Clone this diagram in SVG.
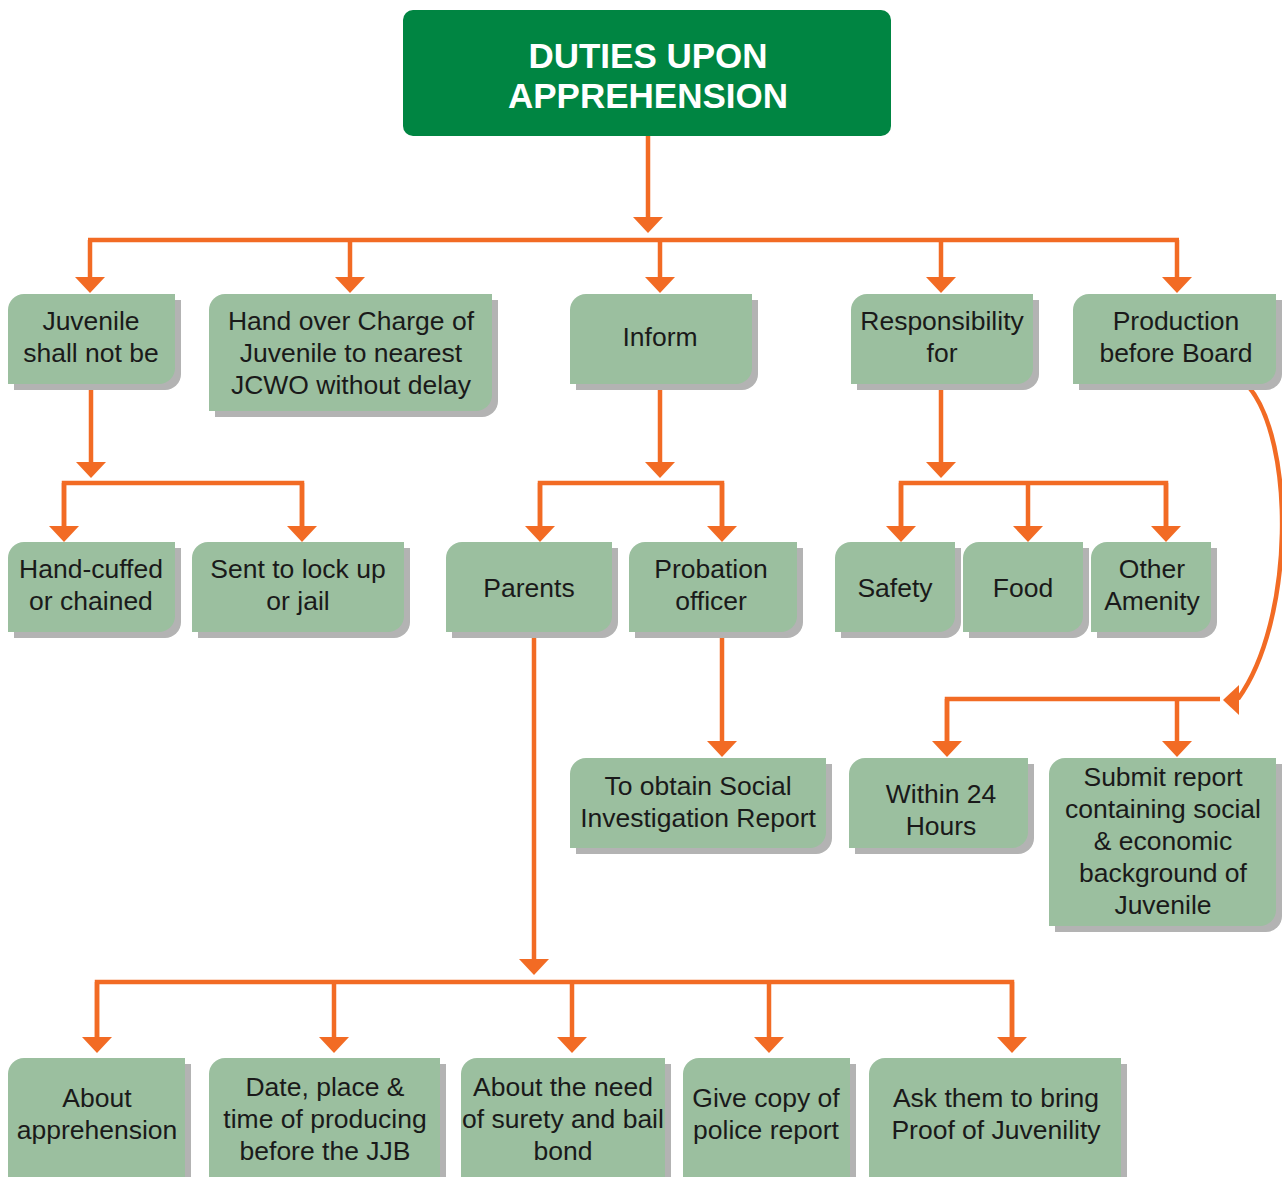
<svg xmlns="http://www.w3.org/2000/svg" width="1282" height="1177" viewBox="0 0 1282 1177">
<defs>
<style>
.sh{fill:#b3b3b3}
.bx{fill:#9bbf9f}
.t{font-family:"Liberation Sans",Arial,sans-serif;font-size:26.5px;fill:#1a1a1a;text-anchor:middle}
.tt{font-family:"Liberation Sans",Arial,sans-serif;font-size:35px;font-weight:bold;fill:#ffffff;text-anchor:middle}
.c{fill:none;stroke:#f26b24;stroke-width:4.5;stroke-linejoin:miter}
</style>
<marker id="ah" viewBox="0 0 16 30" refX="0" refY="15" markerWidth="16" markerHeight="30" markerUnits="userSpaceOnUse" orient="auto">
<path d="M0,0 L16,15 L0,30 Z" fill="#f26b24"/>
</marker>
</defs>
<rect width="1282" height="1177" fill="#ffffff"/>

<g id="connectors">
<path class="c" d="M648,136 V217" marker-end="url(#ah)"/>
<path class="c" d="M88,240 H1179"/>
<path class="c" d="M90,240 V277" marker-end="url(#ah)"/>
<path class="c" d="M350,240 V277" marker-end="url(#ah)"/>
<path class="c" d="M660,240 V277" marker-end="url(#ah)"/>
<path class="c" d="M941,240 V277" marker-end="url(#ah)"/>
<path class="c" d="M1177,240 V277" marker-end="url(#ah)"/>

<path class="c" d="M91,384 V462" marker-end="url(#ah)"/>
<path class="c" d="M64,526 V483 H302 V526"/>
<path class="c" d="M64,483 V526" marker-end="url(#ah)"/>
<path class="c" d="M302,483 V526" marker-end="url(#ah)"/>

<path class="c" d="M660,384 V462" marker-end="url(#ah)"/>
<path class="c" d="M540,526 V483 H722 V526"/>
<path class="c" d="M540,483 V526" marker-end="url(#ah)"/>
<path class="c" d="M722,483 V526" marker-end="url(#ah)"/>

<path class="c" d="M941,384 V462" marker-end="url(#ah)"/>
<path class="c" d="M901,526 V483 H1166 V526"/>
<path class="c" d="M901,483 V526" marker-end="url(#ah)"/>
<path class="c" d="M1028,483 V526" marker-end="url(#ah)"/>
<path class="c" d="M1166,483 V526" marker-end="url(#ah)"/>

<path class="c" d="M722,632 V741" marker-end="url(#ah)"/>

<path class="c" d="M1248,386 C1295,440 1295,620 1238,699"/>
<path d="M1223,700 L1239,685 L1239,715 Z" fill="#f26b24"/>
<path class="c" d="M947,741 V699 H1220"/>
<path class="c" d="M947,699 V741" marker-end="url(#ah)"/>
<path class="c" d="M1177,699 V741" marker-end="url(#ah)"/>

<path class="c" d="M534,632 V959" marker-end="url(#ah)"/>
<path class="c" d="M97,1037 V982 H1012 V1037"/>
<path class="c" d="M97,982 V1037" marker-end="url(#ah)"/>
<path class="c" d="M334,982 V1037" marker-end="url(#ah)"/>
<path class="c" d="M572,982 V1037" marker-end="url(#ah)"/>
<path class="c" d="M769,982 V1037" marker-end="url(#ah)"/>
<path class="c" d="M1012,982 V1037" marker-end="url(#ah)"/>
</g>

<g id="title">
<rect x="403" y="10" width="488" height="126" rx="10" fill="#008542"/>
<text class="tt" x="648" y="68">DUTIES UPON</text>
<text class="tt" x="648" y="108">APPREHENSION</text>
</g>

<g id="n-juvenile">
<path class="sh" d="M14,316 A16,16 0 0 1 30,300 H181 V374 A16,16 0 0 1 165,390 H14 Z"/>
<path class="bx" d="M8,310 A16,16 0 0 1 24,294 H175 V368 A16,16 0 0 1 159,384 H8 Z"/>
<text class="t" x="91" y="330">Juvenile</text>
<text class="t" x="91" y="362">shall not be</text>
</g>

<g id="n-handover">
<path class="sh" d="M215,316 A16,16 0 0 1 231,300 H498 V401 A16,16 0 0 1 482,417 H215 Z"/>
<path class="bx" d="M209,310 A16,16 0 0 1 225,294 H492 V395 A16,16 0 0 1 476,411 H209 Z"/>
<text class="t" x="351" y="330">Hand over Charge of</text>
<text class="t" x="351" y="362">Juvenile to nearest</text>
<text class="t" x="351" y="394">JCWO without delay</text>
</g>

<g id="n-inform">
<path class="sh" d="M576,316 A16,16 0 0 1 592,300 H758 V374 A16,16 0 0 1 742,390 H576 Z"/>
<path class="bx" d="M570,310 A16,16 0 0 1 586,294 H752 V368 A16,16 0 0 1 736,384 H570 Z"/>
<text class="t" x="660" y="346">Inform</text>
</g>

<g id="n-responsibility">
<path class="sh" d="M857,316 A16,16 0 0 1 873,300 H1039 V374 A16,16 0 0 1 1023,390 H857 Z"/>
<path class="bx" d="M851,310 A16,16 0 0 1 867,294 H1033 V368 A16,16 0 0 1 1017,384 H851 Z"/>
<text class="t" x="942" y="330">Responsibility</text>
<text class="t" x="942" y="362">for</text>
</g>

<g id="n-production">
<path class="sh" d="M1079,316 A16,16 0 0 1 1095,300 H1282 V374 A16,16 0 0 1 1266,390 H1079 Z"/>
<path class="bx" d="M1073,310 A16,16 0 0 1 1089,294 H1276 V368 A16,16 0 0 1 1260,384 H1073 Z"/>
<text class="t" x="1176" y="330">Production</text>
<text class="t" x="1176" y="362">before Board</text>
</g>

<g id="n-handcuffed">
<path class="sh" d="M14,564 A16,16 0 0 1 30,548 H181 V622 A16,16 0 0 1 165,638 H14 Z"/>
<path class="bx" d="M8,558 A16,16 0 0 1 24,542 H175 V616 A16,16 0 0 1 159,632 H8 Z"/>
<text class="t" x="91" y="578">Hand-cuffed</text>
<text class="t" x="91" y="610">or chained</text>
</g>

<g id="n-lockup">
<path class="sh" d="M198,564 A16,16 0 0 1 214,548 H410 V622 A16,16 0 0 1 394,638 H198 Z"/>
<path class="bx" d="M192,558 A16,16 0 0 1 208,542 H404 V616 A16,16 0 0 1 388,632 H192 Z"/>
<text class="t" x="298" y="578">Sent to lock up</text>
<text class="t" x="298" y="610">or jail</text>
</g>

<g id="n-parents">
<path class="sh" d="M452,564 A16,16 0 0 1 468,548 H618 V622 A16,16 0 0 1 602,638 H452 Z"/>
<path class="bx" d="M446,558 A16,16 0 0 1 462,542 H612 V616 A16,16 0 0 1 596,632 H446 Z"/>
<text class="t" x="529" y="597">Parents</text>
</g>

<g id="n-probation">
<path class="sh" d="M635,564 A16,16 0 0 1 651,548 H803 V622 A16,16 0 0 1 787,638 H635 Z"/>
<path class="bx" d="M629,558 A16,16 0 0 1 645,542 H797 V616 A16,16 0 0 1 781,632 H629 Z"/>
<text class="t" x="711" y="578">Probation</text>
<text class="t" x="711" y="610">officer</text>
</g>

<g id="n-safety">
<path class="sh" d="M841,564 A16,16 0 0 1 857,548 H961 V622 A16,16 0 0 1 945,638 H841 Z"/>
<path class="bx" d="M835,558 A16,16 0 0 1 851,542 H955 V616 A16,16 0 0 1 939,632 H835 Z"/>
<text class="t" x="895" y="597">Safety</text>
</g>

<g id="n-food">
<path class="sh" d="M969,564 A16,16 0 0 1 985,548 H1089 V622 A16,16 0 0 1 1073,638 H969 Z"/>
<path class="bx" d="M963,558 A16,16 0 0 1 979,542 H1083 V616 A16,16 0 0 1 1067,632 H963 Z"/>
<text class="t" x="1023" y="597">Food</text>
</g>

<g id="n-amenity">
<path class="sh" d="M1097,564 A16,16 0 0 1 1113,548 H1217 V622 A16,16 0 0 1 1201,638 H1097 Z"/>
<path class="bx" d="M1091,558 A16,16 0 0 1 1107,542 H1211 V616 A16,16 0 0 1 1195,632 H1091 Z"/>
<text class="t" x="1152" y="578">Other</text>
<text class="t" x="1152" y="610">Amenity</text>
</g>

<g id="n-social">
<path class="sh" d="M576,780 A16,16 0 0 1 592,764 H832 V838 A16,16 0 0 1 816,854 H576 Z"/>
<path class="bx" d="M570,774 A16,16 0 0 1 586,758 H826 V832 A16,16 0 0 1 810,848 H570 Z"/>
<text class="t" x="698" y="795">To obtain Social</text>
<text class="t" x="698" y="827">Investigation Report</text>
</g>

<g id="n-within24">
<path class="sh" d="M855,780 A16,16 0 0 1 871,764 H1034 V838 A16,16 0 0 1 1018,854 H855 Z"/>
<path class="bx" d="M849,774 A16,16 0 0 1 865,758 H1028 V832 A16,16 0 0 1 1012,848 H849 Z"/>
<text class="t" x="941" y="803">Within 24</text>
<text class="t" x="941" y="835">Hours</text>
</g>

<g id="n-submit">
<path class="sh" d="M1055,780 A16,16 0 0 1 1071,764 H1282 V916 A16,16 0 0 1 1266,932 H1055 Z"/>
<path class="bx" d="M1049,774 A16,16 0 0 1 1065,758 H1276 V910 A16,16 0 0 1 1260,926 H1049 Z"/>
<text class="t" x="1163" y="786">Submit report</text>
<text class="t" x="1163" y="818">containing social</text>
<text class="t" x="1163" y="850">&amp; economic</text>
<text class="t" x="1163" y="882">background of</text>
<text class="t" x="1163" y="914">Juvenile</text>
</g>

<g id="n-aboutapp">
<path class="sh" d="M14,1080 A16,16 0 0 1 30,1064 H191 V1190 H14 Z"/>
<path class="bx" d="M8,1074 A16,16 0 0 1 24,1058 H185 V1190 H8 Z"/>
<text class="t" x="97" y="1107">About</text>
<text class="t" x="97" y="1139">apprehension</text>
</g>

<g id="n-date">
<path class="sh" d="M215,1080 A16,16 0 0 1 231,1064 H446 V1190 H215 Z"/>
<path class="bx" d="M209,1074 A16,16 0 0 1 225,1058 H440 V1190 H209 Z"/>
<text class="t" x="325" y="1096">Date, place &amp;</text>
<text class="t" x="325" y="1128">time of producing</text>
<text class="t" x="325" y="1160">before the JJB</text>
</g>

<g id="n-surety">
<path class="sh" d="M467,1080 A16,16 0 0 1 483,1064 H671 V1190 H467 Z"/>
<path class="bx" d="M461,1074 A16,16 0 0 1 477,1058 H665 V1190 H461 Z"/>
<text class="t" x="563" y="1096">About the need</text>
<text class="t" x="563" y="1128">of surety and bail</text>
<text class="t" x="563" y="1160">bond</text>
</g>

<g id="n-copy">
<path class="sh" d="M689,1080 A16,16 0 0 1 705,1064 H856 V1190 H689 Z"/>
<path class="bx" d="M683,1074 A16,16 0 0 1 699,1058 H850 V1190 H683 Z"/>
<text class="t" x="766" y="1107">Give copy of</text>
<text class="t" x="766" y="1139">police report</text>
</g>

<g id="n-proof">
<path class="sh" d="M875,1080 A16,16 0 0 1 891,1064 H1127 V1190 H875 Z"/>
<path class="bx" d="M869,1074 A16,16 0 0 1 885,1058 H1121 V1190 H869 Z"/>
<text class="t" x="996" y="1107">Ask them to bring</text>
<text class="t" x="996" y="1139">Proof of Juvenility</text>
</g>
</svg>
